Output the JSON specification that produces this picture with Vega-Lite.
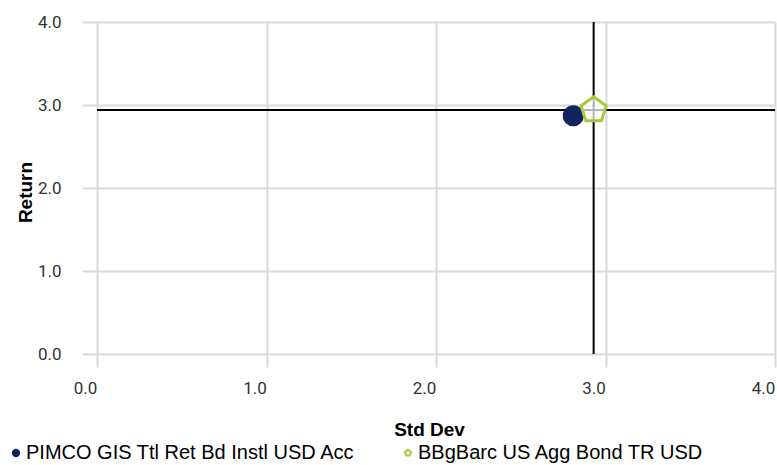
{
  "$schema": "https://vega.github.io/schema/vega-lite/v6.json",
  "autosize": "none",
  "padding": {"left": 97, "top": 22, "right": 2, "bottom": 111},
  "width": 678,
  "height": 332,
  "background": "white",
  "data": {
    "values": [
      {"name": "PIMCO GIS Ttl Ret Bd Instl USD Acc", "stddev": 2.81, "ret": 2.87, "kind": "fund"},
      {"name": "BBgBarc US Agg Bond TR USD", "stddev": 2.93, "ret": 2.94, "kind": "benchmark"}
    ]
  },
  "layer": [
    {
      "transform": [{"filter": "datum.kind == 'benchmark'"}],
      "mark": {"type": "rule", "color": "#000000", "strokeWidth": 2},
      "encoding": {"x": {"field": "stddev", "type": "quantitative"}}
    },
    {
      "transform": [{"filter": "datum.kind == 'benchmark'"}],
      "mark": {"type": "rule", "color": "#000000", "strokeWidth": 2},
      "encoding": {"y": {"field": "ret", "type": "quantitative"}}
    },
    {
      "mark": {"type": "point", "filled": false, "strokeWidth": 3, "opacity": 1, "clip": false},
      "encoding": {
        "x": {
          "field": "stddev",
          "type": "quantitative",
          "scale": {"domain": [0, 4], "nice": false, "zero": false},
          "axis": {
            "title": "Std Dev",
            "values": [0, 1, 2, 3, 4],
            "format": ".1f",
            "domain": false,
            "grid": true,
            "gridColor": "#d9d9d9",
            "gridWidth": 2,
            "ticks": true,
            "tickSize": 13,
            "tickColor": "#d9d9d9",
            "tickWidth": 2,
            "labelPadding": 13,
            "labelOffset": -12,
            "labelFont": "Roboto",
            "labelFontSize": 17,
            "labelColor": "#333333",
            "labelFlush": false,
            "titleFont": "Liberation Sans",
            "titleFontSize": 19,
            "titleFontWeight": "bold",
            "titleColor": "#000000",
            "titleX": 332,
            "titleY": 75,
            "titleBaseline": "middle",
            "titleAlign": "center"
          }
        },
        "y": {
          "field": "ret",
          "type": "quantitative",
          "scale": {"domain": [0, 4], "nice": false, "zero": false},
          "axis": {
            "title": "Return",
            "values": [0, 1, 2, 3, 4],
            "format": ".1f",
            "domain": false,
            "grid": true,
            "gridColor": "#d9d9d9",
            "gridWidth": 2,
            "ticks": true,
            "tickSize": 15,
            "tickColor": "#d9d9d9",
            "tickWidth": 2,
            "labelPadding": 21,
            "labelFont": "Roboto",
            "labelFontSize": 17,
            "labelColor": "#333333",
            "labelFlush": false,
            "titleFont": "Liberation Sans",
            "titleFontSize": 19,
            "titleFontWeight": "bold",
            "titleColor": "#000000",
            "titleX": -72,
            "titleY": 170,
            "titleBaseline": "middle",
            "titleAlign": "center",
            "titleAngle": -90
          }
        },
        "shape": {
          "field": "name",
          "type": "nominal",
          "sort": ["PIMCO GIS Ttl Ret Bd Instl USD Acc", "BBgBarc US Agg Bond TR USD"],
          "scale": {
            "domain": ["PIMCO GIS Ttl Ret Bd Instl USD Acc", "BBgBarc US Agg Bond TR USD"],
            "range": ["circle", "M0,-1L0.951,-0.309L0.588,0.809L-0.588,0.809L-0.951,-0.309Z"]
          }
        },
        "size": {
          "field": "kind",
          "type": "nominal",
          "scale": {
            "domain": ["fund", "benchmark"],
            "range": [330, 700]
          },
          "legend": null
        },
        "fill": {
          "field": "name",
          "type": "nominal",
          "scale": {
            "domain": ["PIMCO GIS Ttl Ret Bd Instl USD Acc", "BBgBarc US Agg Bond TR USD"],
            "range": ["#13235f", "#ffffff"]
          }
        },
        "fillOpacity": {
          "condition": {"test": "datum.kind == 'fund'", "value": 1},
          "value": 0.7
        },
        "stroke": {
          "field": "name",
          "type": "nominal",
          "scale": {
            "domain": ["PIMCO GIS Ttl Ret Bd Instl USD Acc", "BBgBarc US Agg Bond TR USD"],
            "range": ["#13235f", "#aac83c"]
          },
          "legend": {
            "title": null,
            "orient": "none",
            "legendX": -91,
            "legendY": 421,
            "direction": "horizontal",
            "columns": 2,
            "padding": 0,
            "columnPadding": 43,
            "symbolSize": 40,
            "symbolStrokeWidth": 2,
            "symbolOpacity": 1,
            "labelFont": "Liberation Sans",
            "labelFontSize": 20,
            "labelColor": "#000000",
            "labelOffset": 0,
            "labelLimit": 500
          }
        }
      }
    }
  ],
  "config": {
    "view": {"stroke": null},
    "font": "Liberation Sans"
  }
}
